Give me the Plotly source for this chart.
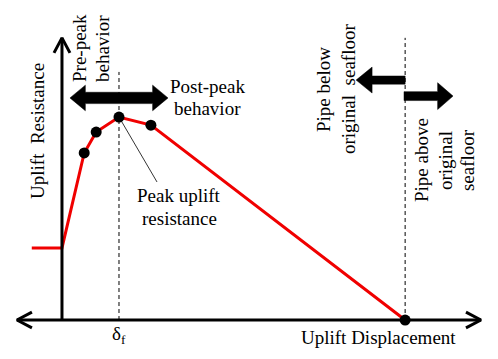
import plotly.graph_objects as go

# ---------------- data (normalised units: displacement / delta_f, resistance / peak) ----------
curve_disp = [-0.53, 0.0, 0.39, 0.60, 1.00, 1.56, 6.02]
curve_resist = [0.355, 0.355, 0.823, 0.926, 1.00, 0.96, 0.0]
marker_idx = [2, 3, 4, 5, 6]

delta_f = 1.0
seafloor_disp = 6.02

axis_x_extent = [-0.79, 7.35]
axis_y_top = 1.39
dash_top_peak = 1.222
dash_top_seafloor = 1.39

# text labels: (x, y, text, angle)
text_items = [
    (-0.439, 0.931, "Uplift  Resistance", -90),
    (0.316, 1.340, "Pre-peak", -90),
    (0.702, 1.335, "behavior", -90),
    (2.544, 1.148, "Post-peak", 0),
    (2.561, 1.044, "behavior", 0),
    (2.053, 0.611, "Peak uplift", 0),
    (2.053, 0.498, "resistance", 0),
    (4.579, 1.133, "Pipe below", -90),
    (5.018, 1.138, "original  seafloor", -90),
    (6.298, 0.788, "Pipe above", -90),
    (6.719, 0.788, "original", -90),
    (7.105, 0.788, "seafloor", -90),
    (5.544, -0.084, "Uplift Displacement", 0),
    (1.0, -0.074, "δ<sub>f</sub>", 0),
]

# peak leader line end (towards label)
leader_end = (1.667, 0.68)

# block arrows: (tail, tip, y, shaft half-thickness, head half-height, head length, double)
behaviour_arrow = (0.14, 1.86, 1.094, 0.028, 0.063, 0.27, True)
below_arrow = (6.02, 5.16, 1.182, 0.020, 0.064, 0.28, False)
above_arrow = (6.00, 6.86, 1.103, 0.022, 0.066, 0.27, False)

# chevron sizes for the axis arrow heads (length / half-width in axis units)
h_chev = (0.263, 0.039)   # horizontal axis: dx length, dy half-width
v_chev = (0.074, 0.14)    # vertical axis: dy length, dx half-width

FONT = "Liberation Serif, Times New Roman, serif"


def arrow_poly(x_tail, x_tip, yc, sh, hh, hl, double=False):
    d = 1 if x_tip > x_tail else -1
    tb = x_tip - d * hl
    if double:
        lb = x_tail + d * hl
        xs = [x_tail, lb, lb, tb, tb, x_tip, tb, tb, lb, lb, x_tail]
        ys = [yc, yc + hh, yc + sh, yc + sh, yc + hh, yc, yc - hh, yc - sh, yc - sh, yc - hh, yc]
    else:
        xs = [x_tail, tb, tb, x_tip, tb, tb, x_tail, x_tail]
        ys = [yc + sh, yc + sh, yc + hh, yc, yc - hh, yc - sh, yc - sh, yc + sh]
    return xs, ys


def line(fig, xs, ys, color="black", width=3, dash=None):
    fig.add_trace(go.Scatter(x=xs, y=ys, mode="lines",
                             line=dict(color=color, width=width, dash=dash),
                             hoverinfo="skip", showlegend=False))


fig = go.Figure()

# dashed guide lines
for xv, top in [(delta_f, dash_top_peak), (seafloor_disp, dash_top_seafloor)]:
    line(fig, [xv, xv], [0, top], width=1, dash="4px,3px")

# peak leader line
line(fig, [delta_f, leader_end[0]], [1.0, leader_end[1]], width=0.8)

# red curve
line(fig, curve_disp, curve_resist, color="#f00000", width=3)

# axes lines
line(fig, [0, 0], [0, axis_y_top])
line(fig, axis_x_extent, [0, 0])

# axis chevron heads
x0, x1 = axis_x_extent
line(fig, [x1 - h_chev[0], x1, x1 - h_chev[0]], [h_chev[1], 0, -h_chev[1]])
line(fig, [x0 + h_chev[0], x0, x0 + h_chev[0]], [h_chev[1], 0, -h_chev[1]])
line(fig, [-v_chev[1], 0, v_chev[1]], [axis_y_top - v_chev[0], axis_y_top, axis_y_top - v_chev[0]])

# markers
fig.add_trace(go.Scatter(x=[curve_disp[i] for i in marker_idx],
                         y=[curve_resist[i] for i in marker_idx], mode="markers",
                         marker=dict(color="black", size=11),
                         hoverinfo="skip", showlegend=False))

# block arrows
for spec in [behaviour_arrow, below_arrow, above_arrow]:
    xs, ys = arrow_poly(*spec)
    fig.add_trace(go.Scatter(x=xs, y=ys, mode="lines", fill="toself",
                             fillcolor="black", line=dict(color="black", width=0.5),
                             hoverinfo="skip", showlegend=False))

annotations = []
font = dict(family=FONT, size=19, color="black")
for x, y, t, ang in text_items:
    annotations.append(dict(x=x, y=y, xref="x", yref="y", text=t, showarrow=False,
                            textangle=ang, font=font, align="center",
                            xanchor="center", yanchor="middle"))

# the page body has an 8px margin; the figure is sized to fill the rest of the window
fig.update_layout(
    width=490, height=351,
    margin=dict(l=0, r=0, t=0, b=0),
    paper_bgcolor="white", plot_bgcolor="white",
    xaxis=dict(range=[-0.947, 7.649], visible=False, fixedrange=True),
    yaxis=dict(range=[-0.192, 1.537], visible=False, fixedrange=True),
    annotations=annotations,
    showlegend=False,
)

fig.write_html("out.html")
